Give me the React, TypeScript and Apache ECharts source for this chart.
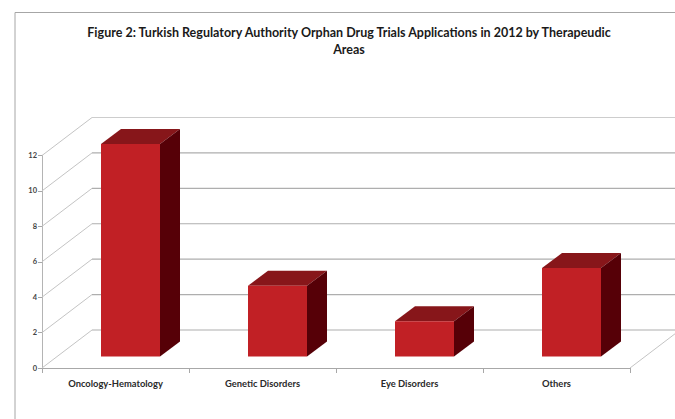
import React, { useEffect, useRef } from "react";
import * as echarts from "echarts";

const categories = ["Oncology-Hematology", "Genetic Disorders", "Eye Disorders", "Others"];
const applications = [12, 4, 2, 5];
const gridTicks = [0, 2, 4, 6, 8, 10, 12];
const chartTitle = "Figure 2: Turkish Regulatory Authority Orphan Drug Trials Applications in 2012 by Therapeudic\nAreas";

const FONT = "Lato, 'Open Sans', sans-serif";
const WALL_DX = 50;
const WALL_DY = -38;
const BAR_DX = 15;
const BAR_DY = -11.4;
const DEPTH_DX = 20;
const DEPTH_DY = -15;
const BAR_WIDTH = 59;

// Back wall, left wall and floor edges of the pseudo-3D plot box.
function renderWall(params: any, api: any) {
  const value = api.value(1);
  const [, y] = api.coord([0, value]);
  const { x, width } = params.coordSys;
  const line = (x1: number, y1: number, x2: number, y2: number, stroke: string, lineWidth: number) => ({
    type: "line",
    shape: { x1, y1, x2, y2 },
    style: { stroke, lineWidth, fill: "none" },
  });
  const children: any[] = [
    line(x + WALL_DX, y + WALL_DY, x + width + WALL_DX, y + WALL_DY, value === 12 ? "#cdcdcd" : "#aeaeae", 1.2),
    line(x, y, x + WALL_DX, y + WALL_DY, "#c4c4c4", 1),
  ];
  if (value === 0) {
    children.push(line(x + width, y, x + width + WALL_DX, y + WALL_DY, "#c4c4c4", 1));
  }
  return { type: "group", children };
}

// One cuboid: front face, top face and right side.
function renderBar(_params: any, api: any) {
  const [cx, top] = api.coord([api.value(0), api.value(1)]);
  const [, base] = api.coord([api.value(0), 0]);
  const left = cx + BAR_DX - BAR_WIDTH / 2;
  const right = left + BAR_WIDTH;
  const t = top + BAR_DY;
  const b = base + BAR_DY;
  return {
    type: "group",
    children: [
      {
        type: "polygon",
        shape: { points: [[left, t], [right, t], [right + DEPTH_DX, t + DEPTH_DY], [left + DEPTH_DX, t + DEPTH_DY]] },
        style: { fill: "#87161a" },
      },
      {
        type: "polygon",
        shape: { points: [[right, t], [right + DEPTH_DX, t + DEPTH_DY], [right + DEPTH_DX, b + DEPTH_DY], [right, b]] },
        style: { fill: "#560007" },
      },
      {
        type: "rect",
        shape: { x: left, y: t, width: BAR_WIDTH, height: b - t },
        style: { fill: "#c12025" },
      },
    ],
  };
}

export default function App() {
  const ref = useRef<HTMLDivElement>(null);

  useEffect(() => {
    const chart = echarts.init(ref.current!, null, { renderer: "svg" });
    chart.setOption({
      animation: false,
      backgroundColor: "#ffffff",
      title: {
        text: chartTitle,
        left: 344,
        top: 19,
        textAlign: "center",
        textStyle: { fontFamily: FONT, fontSize: 12.5, fontWeight: "bold", color: "#1a1a1a", lineHeight: 17 },
      },
      grid: { left: 42, right: 45, top: 155.5, bottom: 51 },
      xAxis: {
        type: "category",
        data: categories,
        axisLine: { lineStyle: { color: "#a8a8a8", width: 1 } },
        axisTick: { show: true, length: 5, lineStyle: { color: "#a8a8a8" } },
        axisLabel: { fontFamily: FONT, fontSize: 9.4, fontWeight: "bold", color: "#2a2a2a", margin: 11 },
        splitLine: { show: false },
      },
      yAxis: {
        type: "value",
        min: 0,
        max: 12,
        interval: 2,
        axisLine: { show: true, lineStyle: { color: "#b4b4b4", width: 1 } },
        axisTick: { show: true, length: 4, lineStyle: { color: "#a8a8a8" } },
        axisLabel: { fontFamily: FONT, fontSize: 7.5, fontWeight: "bold", color: "#444444", margin: 5 },
        splitLine: { show: false },
      },
      graphic: [
        {
          type: "polyline",
          shape: { points: [[15, 419], [15, 12.5], [675, 12.5]] },
          style: { stroke: "#a6a6a6", lineWidth: 1, fill: "none" },
          silent: true,
        },
      ],
      series: [
        {
          type: "custom",
          z: 1,
          clip: false,
          silent: true,
          renderItem: renderWall,
          data: gridTicks.map((tick) => [0, tick]),
          encode: { x: 0, y: 1 },
        },
        {
          type: "custom",
          z: 3,
          clip: false,
          silent: true,
          renderItem: renderBar,
          data: applications.map((value, index) => [index, value]),
          encode: { x: 0, y: 1 },
        },
      ],
    });
    return () => chart.dispose();
  }, []);

  return <div ref={ref} style={{ position: "fixed", left: 0, top: 0, width: 675, height: 419 }} />;
}
